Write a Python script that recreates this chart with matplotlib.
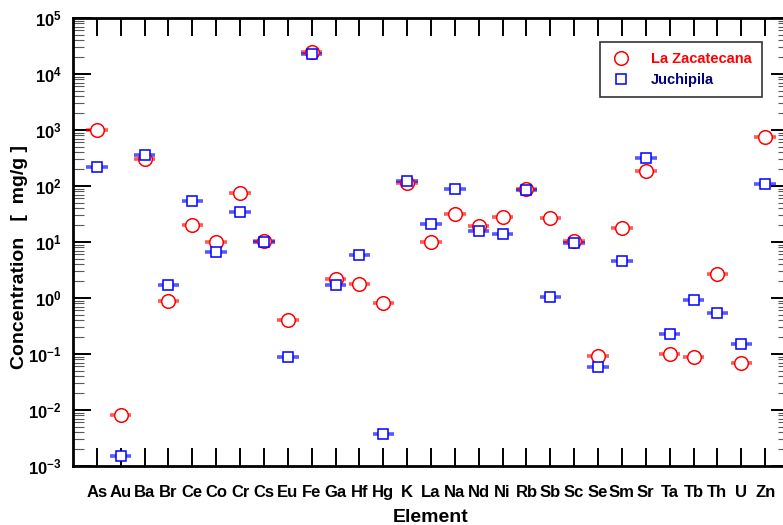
import matplotlib
matplotlib.use('Agg')
import matplotlib.pyplot as plt
from matplotlib.ticker import LogLocator, FixedLocator, NullFormatter
import numpy as np

plt.rcParams['font.family'] = ['Liberation Sans', 'DejaVu Sans']
plt.rcParams['mathtext.fontset'] = 'custom'
plt.rcParams['mathtext.rm'] = 'Liberation Sans'
plt.rcParams['mathtext.bf'] = 'Liberation Sans:bold'

elements = ['As', 'Au', 'Ba', 'Br', 'Ce', 'Co', 'Cr', 'Cs', 'Eu', 'Fe', 'Ga', 'Hf', 'Hg', 'K',
            'La', 'Na', 'Nd', 'Ni', 'Rb', 'Sb', 'Sc', 'Se', 'Sm', 'Sr', 'Ta', 'Tb', 'Th', 'U', 'Zn']

# concentrations
zacatecana = [1000, 0.008, 300, 0.9, 20, 9.8, 75, 10.3, 0.40, 24500, 2.2, 1.76, 0.80, 112,
              9.8, 32, 19.5, 27.5, 88, 26.5, 10.5, 0.092, 18, 187, 0.10, 0.09, 2.65, 0.070, 760]
juchipila = [216, 0.0015, 362, 1.7, 55, 6.7, 35, 10.2, 0.088, 22800, 1.7, 5.8, 0.0038, 121,
             21, 87, 15.5, 14, 85, 1.04, 9.6, 0.059, 4.5, 312, 0.23, 0.92, 0.54, 0.149, 110]

x = np.arange(1, len(elements) + 1)

fig = plt.figure(figsize=(7.83, 5.25), dpi=100)
# right edge of the frame falls just outside the picture, like the reference
ax = fig.add_axes([73 / 783, 59 / 525, 716 / 783, 448 / 525])

ax.errorbar(x, zacatecana, xerr=0.45, fmt='none', ecolor='red', elinewidth=2.6, alpha=0.65, zorder=2)
ax.errorbar(x, juchipila, xerr=0.45, fmt='none', ecolor='blue', elinewidth=2.6, alpha=0.65, zorder=2)
ax.plot(x, zacatecana, 'o', ms=9.8, mfc='white', mec='red', mew=1.1, ls='none',
        label='La Zacatecana', zorder=3)
ax.plot(x, juchipila, 's', ms=6.8, mfc='white', mec='blue', mew=1.1, ls='none',
        label='Juchipila', zorder=4)

ax.set_yscale('log')
ax.set_ylim(1e-3, 1e5)
ax.set_xlim(0, 30)

ax.xaxis.set_major_locator(FixedLocator(x))
ax.set_xticklabels(elements, fontsize=12, fontweight='bold')

yt = [10.0 ** k for k in range(-3, 6)]
ax.yaxis.set_major_locator(FixedLocator(yt))
ax.set_yticklabels([r'$\mathbf{10^{%d}}$' % k for k in range(-3, 6)], fontsize=12)
ax.yaxis.set_minor_locator(LogLocator(base=10, subs=np.arange(2, 10), numticks=20))
ax.yaxis.set_minor_formatter(NullFormatter())

ax.tick_params(axis='both', which='major', direction='in', length=13, width=1.4,
               top=True, right=True, color='black')
ax.tick_params(axis='x', which='major', pad=14)
ax.tick_params(axis='y', which='major', pad=8)
ax.tick_params(axis='y', which='minor', direction='in', length=8, width=0.8,
               right=True, color='0.35')
ax.tick_params(axis='x', which='minor', bottom=False, top=False)

for s in ax.spines.values():
    s.set_linewidth(2)

ax.set_xlabel('Element', fontsize=14, fontweight='bold')
ax.xaxis.set_label_coords(0.5, -(517 - 466) / 448)
ax.set_ylabel('Concentration   [  mg/g ]', fontsize=14, fontweight='bold')
ax.yaxis.set_label_coords(-(73 - 20) / 716, (466 - 257) / 448)
ax.yaxis.label.set_verticalalignment('center')
ax.xaxis.label.set_verticalalignment('center')

leg = ax.legend(loc='upper left', bbox_to_anchor=((600 - 73) / 716, (466 - 42) / 448),
                frameon=True, fancybox=False, edgecolor='black',
                prop={'weight': 'bold', 'size': 10.5}, handlelength=1.5, handletextpad=1.3,
                borderpad=0.7, labelspacing=0.45, borderaxespad=0)
leg.get_frame().set_linewidth(1.2)
for txt, c in zip(leg.get_texts(), ['red', 'navy']):
    txt.set_color(c)

fig.savefig('out.png', dpi=100)
